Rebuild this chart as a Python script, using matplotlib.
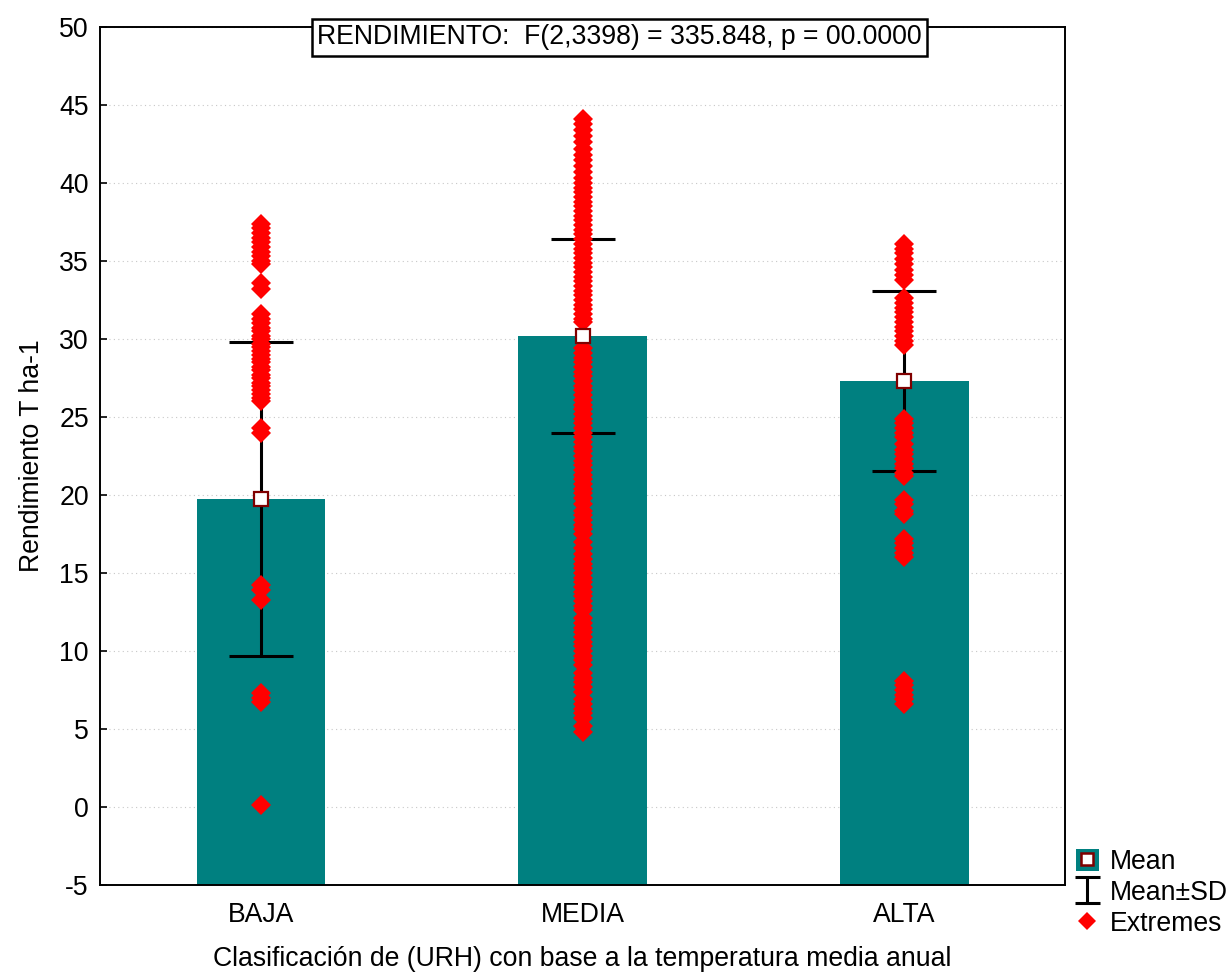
import matplotlib
matplotlib.use("Agg")
import matplotlib.pyplot as plt
from matplotlib.lines import Line2D
from matplotlib.patches import Patch
from matplotlib.legend_handler import HandlerTuple

plt.rcParams["font.family"] = ["Liberation Sans", "DejaVu Sans"]
plt.rcParams["axes.unicode_minus"] = False

categories = ["BAJA", "MEDIA", "ALTA"]
means = [19.75, 30.2, 27.3]
sds = [10.05, 6.2, 5.75]

# extreme values per group
extremes_baja = [37.4, 37.1, 36.8, 36.5, 36.2, 35.9, 35.6, 35.3, 35.0, 34.8,
                 33.6, 33.2,
                 31.6, 31.3, 31.0, 30.7, 30.5, 30.2, 30.0, 29.7, 29.5, 29.2,
                 29.0, 28.7, 28.5, 28.2, 28.0, 27.7, 27.5, 27.2, 27.0, 26.7,
                 26.5, 26.2, 26.0,
                 24.3, 24.0, 14.2, 13.9, 13.3, 7.3, 7.0, 6.7, 0.1]
extremes_media = [44.1, 43.8, 43.4, 43.0, 42.6, 42.2, 41.8, 41.5, 41.1, 40.7,
                  40.3, 40.0, 39.7, 39.4, 39.1, 38.8, 38.5, 38.2, 37.9, 37.6,
                  37.3, 37.0, 36.7, 36.4, 36.1, 35.8, 35.5, 35.2, 34.9, 34.6,
                  34.3, 34.0, 33.7, 33.4, 33.1, 32.8, 32.5, 32.2, 31.9, 31.6,
                  31.3, 31.1,
                  29.4, 29.1, 28.8, 28.5, 28.2, 27.9, 27.6, 27.3, 27.0, 26.7,
                  26.4, 26.1, 25.8, 25.5, 25.2, 24.9, 24.6, 24.3, 24.0, 23.7,
                  23.4, 23.1, 22.8, 22.5, 22.2, 21.9, 21.6, 21.3, 21.0, 20.7,
                  20.4, 20.1, 19.8, 19.4, 19.0, 18.7, 18.4, 18.1, 17.8, 17.5,
                  17.0, 16.6, 16.2, 15.9, 15.6, 15.3, 15.0, 14.7, 14.4, 14.1,
                  13.8, 13.5, 13.2, 12.9, 12.6, 12.1, 11.8, 11.5, 11.2, 10.9,
                  10.6, 10.3, 10.0, 9.7, 9.4, 9.1, 8.6, 8.3, 8.0, 7.7, 7.4,
                  6.9, 6.6, 6.3, 6.0, 5.7, 5.2, 4.8]
extremes_alta = [36.1, 35.8, 35.5, 35.1, 34.8, 34.4, 34.1, 33.8,
                 32.6, 32.3, 32.0, 31.7, 31.4, 31.1, 30.8, 30.5, 30.2, 29.9, 29.6,
                 24.9, 24.6, 24.3, 24.0, 23.7, 23.3, 22.9, 22.6, 22.3, 22.0,
                 21.7, 21.4, 21.2, 19.7, 19.4, 19.0, 18.8,
                 17.2, 16.9, 16.6, 16.3, 16.0,
                 8.1, 7.8, 7.5, 7.2, 6.9, 6.6]
extremes = [extremes_baja, extremes_media, extremes_alta]

title = "RENDIMIENTO:  F(2,3398) = 335.848, p = 00.0000"
ylabel = "Rendimiento T ha-1"
xlabel = "Clasificación de (URH) con base a la temperatura media anual"

teal = "#008080"
ymin, ymax = -5, 50
fs = 19.2

fig = plt.figure(figsize=(12.27, 9.72), dpi=100)
ax = fig.add_axes([0.0815, 0.0895, 0.7865, 0.8827])

x = list(range(len(categories)))
ax.bar(x, [m - ymin for m in means], bottom=ymin, width=0.4, color=teal, zorder=2)

ax.errorbar(x, means, yerr=sds, fmt="none", ecolor="black", elinewidth=2.2,
            capsize=23, capthick=2.2, zorder=3)

for xi, vals in zip(x, extremes):
    ax.plot([xi] * len(vals), vals, linestyle="none", marker="D", markersize=10,
            color="red", markeredgewidth=0, zorder=4)

ax.plot(x, means, linestyle="none", marker="s", markersize=10, markerfacecolor="white",
        markeredgecolor="#800000", markeredgewidth=1.6, zorder=5)

# invisible errorbar only used as the legend handle (small caps)
eb_leg = ax.errorbar([float("nan")], [float("nan")], yerr=[1.0], fmt="none",
                     ecolor="black", elinewidth=2.2, capsize=9, capthick=2.2)

ax.set_xlim(-0.5, 2.5)
ax.set_ylim(ymin, ymax)
ax.set_yticks(range(-5, 51, 5))
ax.set_xticks(x)
ax.set_xticklabels(categories)
ax.yaxis.grid(True, linestyle=(0, (1, 3)), color="#c8c8c8", linewidth=0.8, zorder=0)
ax.set_axisbelow(True)
ax.tick_params(direction="in", length=5, width=1.2, labelsize=fs, pad=8)
ax.tick_params(axis="x", pad=12)
for s in ax.spines.values():
    s.set_linewidth(1.4)

ax.set_ylabel(ylabel, fontsize=fs, labelpad=10)
ax.set_xlabel(xlabel, fontsize=fs, labelpad=13)

ax.text(0.538, 0.988, title, transform=ax.transAxes, ha="center", va="center",
        fontsize=fs, zorder=6,
        bbox=dict(boxstyle="square,pad=0.2", facecolor="white", edgecolor="black",
                  linewidth=1.8))

h_mean = (Patch(facecolor=teal, edgecolor="none"),
          Line2D([], [], linestyle="none", marker="s", markersize=9,
                 markerfacecolor="white", markeredgecolor="#800000", markeredgewidth=1.8))
h_ext = Line2D([], [], linestyle="none", marker="D", markersize=9, color="red",
               markeredgewidth=0)
fig.legend([h_mean, eb_leg, h_ext], ["Mean", "Mean±SD", "Extremes"],
           handler_map={tuple: HandlerTuple(ndivide=1, pad=0)},
           loc="lower left", bbox_to_anchor=(0.877, 0.036), frameon=False,
           fontsize=fs, handlelength=0.85, handleheight=0.9, handletextpad=0.4,
           labelspacing=0.17, borderaxespad=0, borderpad=0)

fig.savefig("out.png", dpi=100)
